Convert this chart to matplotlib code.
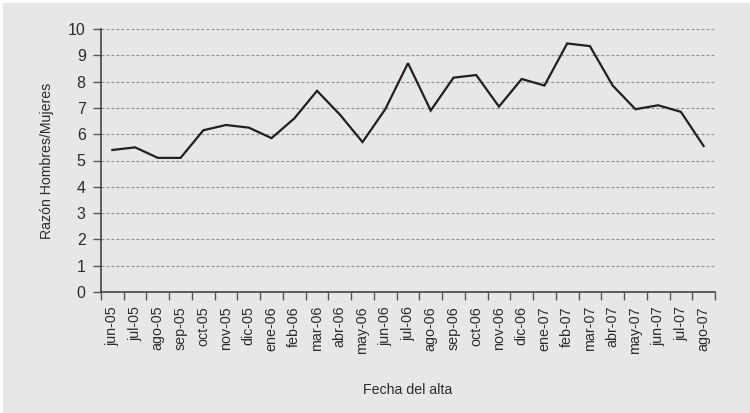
import matplotlib.pyplot as plt
import matplotlib.patches as patches
import numpy as np

months = ['jun-05', 'jul-05', 'ago-05', 'sep-05', 'oct-05', 'nov-05', 'dic-05',
          'ene-06', 'feb-06', 'mar-06', 'abr-06', 'may-06', 'jun-06', 'jul-06',
          'ago-06', 'sep-06', 'oct-06', 'nov-06', 'dic-06', 'ene-07', 'feb-07',
          'mar-07', 'abr-07', 'may-07', 'jun-07', 'jul-07', 'ago-07']
ratio = [5.4, 5.5, 5.1, 5.1, 6.15, 6.35, 6.25, 5.85, 6.6, 7.65, 6.75, 5.7, 6.95,
         8.7, 6.9, 8.15, 8.25, 7.05, 8.1, 7.85, 9.45, 9.35, 7.85, 6.95, 7.1, 6.85, 5.55]
yticks = list(range(0, 11))

plt.rcParams['font.family'] = ['Liberation Sans Narrow', 'Liberation Sans', 'DejaVu Sans']
bg = '#e6e7e8'
ink = '#231f20'
txt = '#2b2b2b'

fig = plt.figure(figsize=(7.5, 4.13), dpi=100, facecolor='white')
fig.patches.append(patches.Rectangle((3 / 750, 0), 1, 1 - 3 / 413, transform=fig.transFigure,
                                     facecolor=bg, edgecolor='none', zorder=-10))
ax = fig.add_axes([101 / 750, 1 - 292 / 413, 614 / 750, 263 / 413])
ax.set_facecolor(bg)

x = np.arange(len(months))
ax.plot(x, ratio, color=ink, linewidth=1.6, solid_joinstyle='miter', zorder=3)

ax.set_xlim(-0.5, len(months) - 0.5)
ax.set_ylim(0, 10)
ax.set_yticks(yticks)
ax.yaxis.grid(True, linestyle=(0, (2.5, 2)), color='#8c8c8c', linewidth=0.8)
ax.set_axisbelow(True)

ax.set_xticks(np.arange(len(months) + 1) - 0.5)
ax.set_xticklabels([])
ax.set_xticks(x, minor=True)
ax.set_xticklabels(months, minor=True, rotation=90, fontsize=10.3, color=txt)
ax.tick_params(axis='x', which='minor', length=0, pad=10)
ax.tick_params(axis='x', which='major', length=6, width=1, color='#555555', direction='out')
ax.tick_params(axis='y', length=6, width=1, color='#555555', labelsize=11.5,
               labelcolor=txt, pad=5)

for s in ['top', 'right']:
    ax.spines[s].set_visible(False)
for s in ['left', 'bottom']:
    ax.spines[s].set_color('#444444')
    ax.spines[s].set_linewidth(1.2)

ax.set_ylabel('Razón Hombres/Mujeres', fontsize=10.2, color=txt, labelpad=10)
fig.text(408 / 750, 1 - 390 / 413, 'Fecha del alta', ha='center', va='center',
         fontsize=10.2, color=txt)

fig.savefig('out.png', dpi=100, facecolor=fig.get_facecolor())
